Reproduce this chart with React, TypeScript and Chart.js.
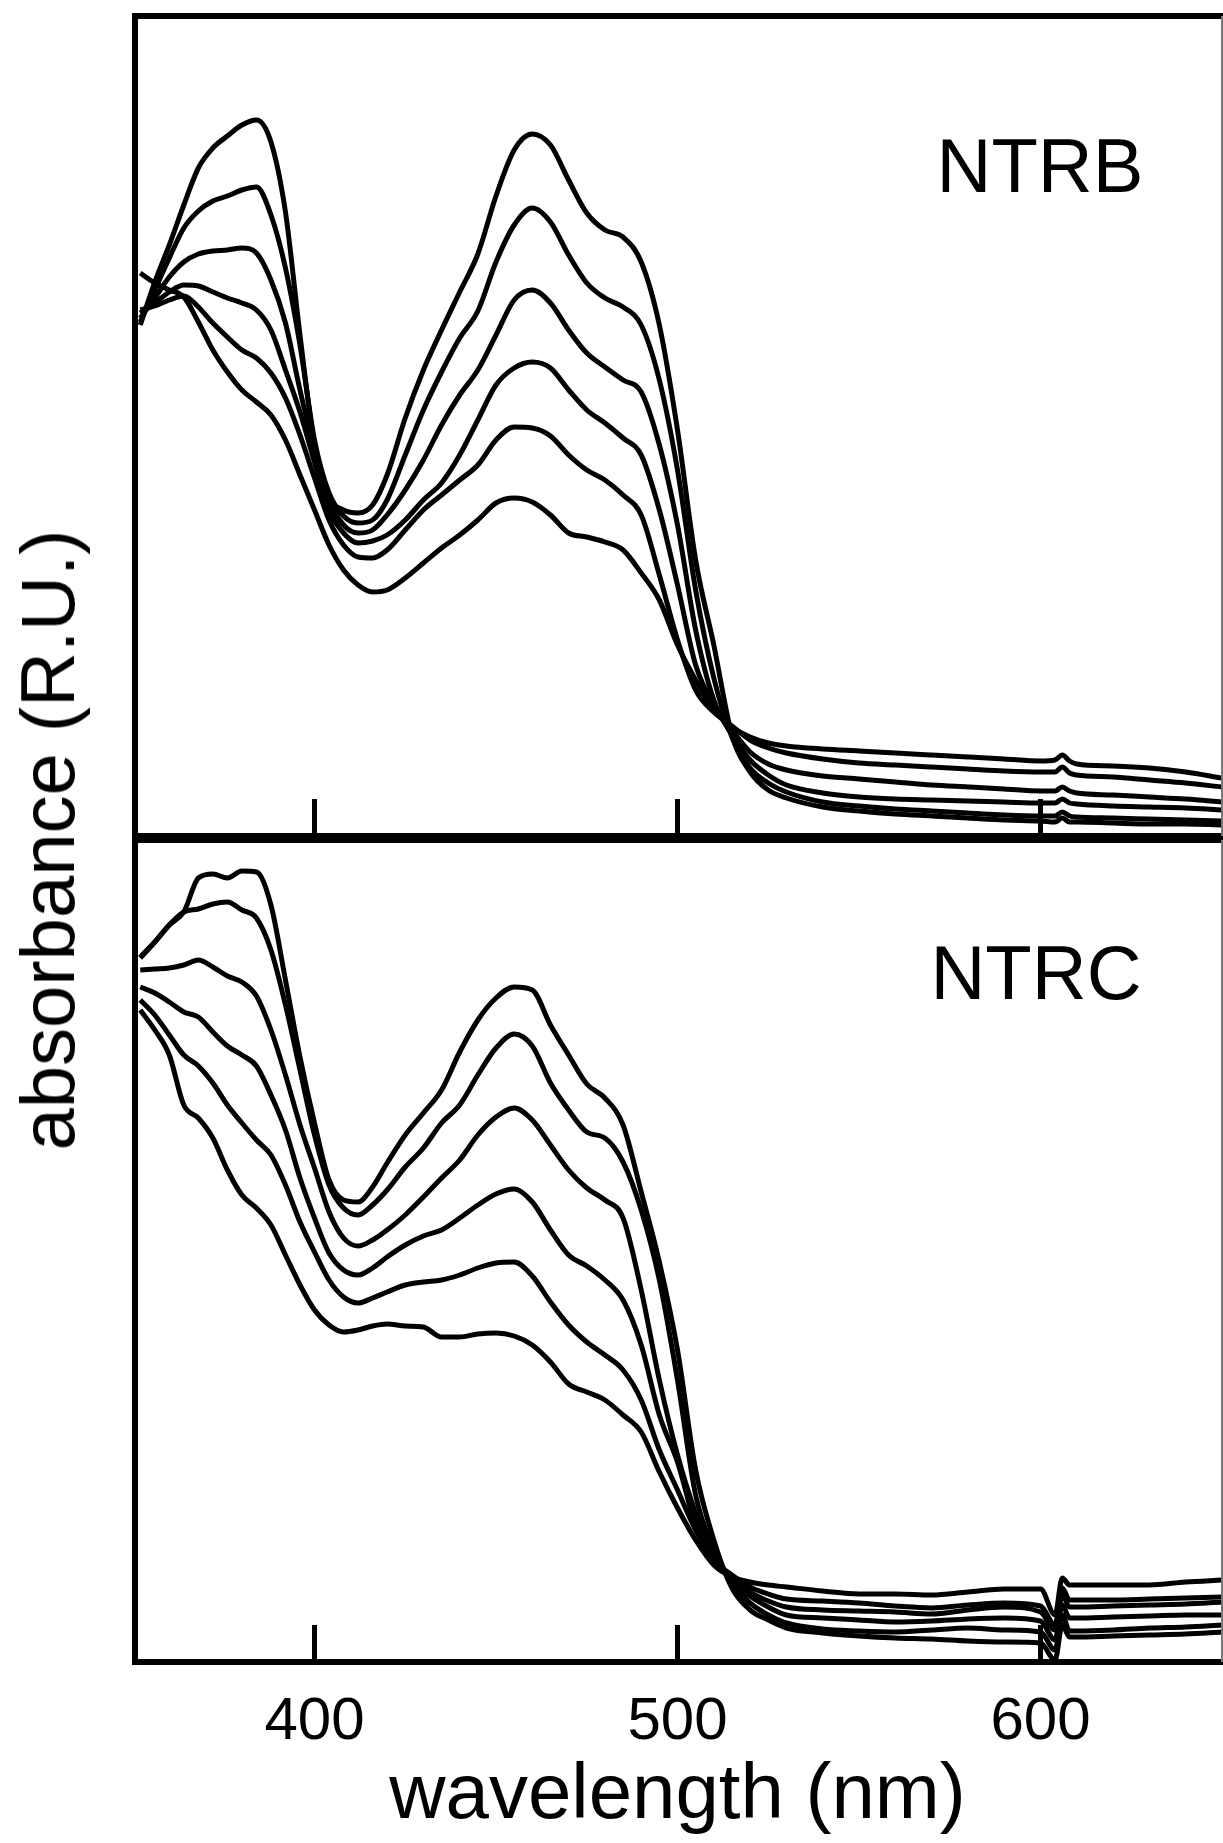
import React, { useEffect, useRef } from 'react';
import { Chart, registerables } from 'chart.js';

Chart.register(...registerables);

const FONT = "'Liberation Sans', Arial, Helvetica, sans-serif";

// wavelength grid (nm)
const WAVELENGTHS = [352, 356, 360, 364, 368, 372, 376, 380, 384, 388, 392, 396, 400, 404, 408, 412, 416, 420, 425, 430, 435, 440, 445, 450, 455, 460, 465, 470, 475, 480, 485, 490, 495, 500, 505, 510, 515, 520, 525, 530, 540, 550, 560, 570, 580, 590, 600, 604, 606, 608, 610, 620, 630, 640, 650];
const X_TICKS = [400, 500, 600];
const X_MIN = 350;
const X_MAX = 650;

// NTRB spectra (absorbance, relative units)
const NTRB_1 = [.511, .554, .591, .631, .668, .688, .700, .711, .716, .694, .624, .501, .391, .339, .326, .323, .331, .361, .418, .466, .506, .544, .582, .640, .686, .702, .691, .656, .623, .606, .599, .574, .511, .406, .276, .191, .101, .064, .046, .038, .029, .025, .022, .020, .018, .016, .015, .014, .018, .014, .014, .013, .012, .012, .011];
const NTRB_2 = [.514, .546, .578, .608, .625, .635, .640, .646, .649, .621, .568, .491, .396, .343, .320, .313, .316, .336, .381, .426, .464, .498, .525, .574, .611, .628, .614, .581, .553, .538, .529, .511, .456, .366, .246, .158, .099, .068, .053, .044, .034, .030, .027, .025, .023, .021, .020, .020, .024, .020, .019, .018, .017, .016, .015];
const NTRB_3 = [.518, .538, .559, .574, .582, .585, .586, .588, .583, .556, .513, .446, .386, .336, .311, .303, .306, .321, .346, .376, .411, .441, .466, .501, .536, .546, .533, .506, .483, .469, .456, .444, .391, .311, .206, .136, .101, .076, .061, .051, .043, .039, .037, .036, .035, .034, .033, .033, .037, .033, .032, .030, .029, .028, .026];
const NTRB_4 = [.523, .533, .544, .551, .550, .544, .538, .533, .526, .506, .466, .424, .374, .326, .303, .293, .295, .301, .316, .336, .353, .381, .416, .451, .468, .474, .468, .446, .426, .413, .398, .381, .326, .251, .171, .131, .106, .084, .072, .066, .060, .057, .054, .051, .049, .047, .045, .045, .049, .045, .043, .041, .039, .037, .034];
const NTRB_5 = [.526, .530, .536, .540, .529, .513, .499, .486, .478, .463, .438, .401, .358, .316, .291, .279, .278, .286, .306, .326, .341, .356, .371, .396, .409, .408, .400, .381, .366, .356, .341, .321, .261, .196, .146, .124, .110, .096, .088, .083, .077, .073, .071, .069, .067, .065, .064, .064, .069, .063, .061, .059, .056, .053, .049];
const NTRB_6 = [.563, .553, .546, .539, .514, .486, .464, .446, .434, .421, .396, .361, .326, .291, .266, .251, .244, .246, .258, .273, .288, .301, .316, .333, .338, .334, .321, .303, .299, .294, .286, .263, .236, .191, .156, .126, .109, .099, .093, .090, .087, .085, .083, .081, .079, .077, .075, .076, .081, .075, .072, .070, .068, .064, .058];

// NTRC spectra (absorbance, relative units)
const NTRC_1 = [.705, .720, .737, .750, .784, .788, .784, .791, .790, .757, .682, .605, .539, .482, .462, .460, .475, .499, .527, .549, .572, .610, .642, .664, .675, .672, .637, .607, .578, .564, .537, .470, .400, .312, .192, .122, .074, .052, .042, .034, .029, .026, .024, .023, .021, .020, .019, .002, .037, .025, .025, .026, .027, .028, .030];
const NTRC_2 = [.704, .720, .737, .750, .753, .758, .760, .752, .744, .712, .657, .592, .527, .477, .454, .447, .457, .472, .495, .514, .539, .557, .587, .614, .628, .616, .579, .552, .530, .524, .500, .452, .382, .282, .167, .112, .079, .059, .047, .039, .033, .031, .030, .032, .034, .032, .030, .012, .047, .031, .031, .032, .034, .035, .037];
const NTRC_3 = [.692, .693, .694, .697, .702, .695, .686, .680, .666, .632, .587, .537, .494, .450, .424, .416, .422, .432, .447, .465, .484, .502, .527, .545, .554, .542, .517, .492, .474, .462, .444, .372, .282, .207, .149, .107, .082, .066, .055, .047, .044, .042, .040, .041, .043, .044, .041, .022, .057, .044, .044, .045, .046, .047, .047];
const NTRC_4 = [.675, .669, .660, .650, .645, .630, .616, .607, .596, .567, .532, .484, .444, .409, .392, .387, .394, .405, .417, .426, .432, .444, .457, .468, .473, .460, .432, .407, .396, .382, .362, .317, .247, .200, .137, .102, .084, .070, .061, .055, .052, .051, .050, .048, .052, .055, .050, .032, .067, .055, .055, .056, .057, .058, .060];
const NTRC_5 = [.662, .647, .627, .607, .596, .579, .557, .539, .522, .507, .477, .440, .410, .382, .365, .359, .364, .370, .377, .380, .382, .387, .394, .399, .400, .386, .360, .337, .320, .307, .292, .262, .212, .172, .132, .102, .087, .075, .068, .063, .061, .059, .056, .054, .057, .059, .056, .037, .074, .062, .062, .062, .063, .064, .065];
const NTRC_6 = [.652, .632, .607, .557, .544, .524, .492, .467, .454, .437, .407, .377, .352, .337, .330, .332, .336, .338, .336, .335, .325, .325, .328, .329, .326, .317, .300, .278, .270, .262, .247, .230, .190, .154, .122, .097, .085, .080, .077, .075, .071, .068, .068, .067, .070, .073, .073, .047, .084, .077, .077, .077, .077, .080, .082];

const NTRB_SERIES = [NTRB_1, NTRB_2, NTRB_3, NTRB_4, NTRB_5, NTRB_6];
const NTRC_SERIES = [NTRC_1, NTRC_2, NTRC_3, NTRC_4, NTRC_5, NTRC_6];

const framePlugin = {
  id: 'frame',
  afterDatasetsDraw(chart: any, _args: any, opts: any) {
    const { ctx, chartArea: a, scales } = chart;
    const w = 6;
    ctx.save();
    ctx.strokeStyle = '#000';
    ctx.lineCap = 'butt';
    ctx.lineWidth = w;
    const lx = a.left + 2;
    // left border
    ctx.beginPath();
    ctx.moveTo(lx, a.top - w / 2);
    ctx.lineTo(lx, a.bottom + w / 2);
    ctx.stroke();
    // top border
    ctx.beginPath();
    ctx.moveTo(lx - w / 2, a.top);
    ctx.lineTo(chart.width, a.top);
    ctx.stroke();
    // bottom border
    ctx.beginPath();
    ctx.moveTo(lx - w / 2, a.bottom);
    ctx.lineTo(chart.width, a.bottom);
    ctx.stroke();
    // inward tick marks
    ctx.lineWidth = 5;
    for (const v of X_TICKS) {
      const px = scales.x.getPixelForValue(v);
      ctx.beginPath();
      ctx.moveTo(px, a.bottom);
      ctx.lineTo(px, a.bottom - 37);
      ctx.stroke();
    }
    // thin right border
    ctx.strokeStyle = '#777';
    ctx.lineWidth = 2;
    ctx.beginPath();
    ctx.moveTo(a.right, a.top);
    ctx.lineTo(a.right, a.bottom);
    ctx.stroke();
    // panel label
    if (opts && opts.text) {
      ctx.fillStyle = '#000';
      ctx.font = `76px ${FONT}`;
      ctx.textAlign = 'center';
      ctx.textBaseline = 'alphabetic';
      ctx.fillText(opts.text, opts.x, opts.y);
    }
    ctx.restore();
  },
};

function makeDatasets(series: number[][]) {
  return series.map((s, k) => ({
    label: `spectrum ${k + 1}`,
    data: WAVELENGTHS.map((x, i) => ({ x, y: s[i] })),
    borderColor: '#000',
    borderWidth: 5,
    pointRadius: 0,
    fill: false,
    cubicInterpolationMode: 'monotone' as const,
  }));
}

function buildConfig(series: number[][], yMax: number, padding: any, showAxis: boolean, label: any): any {
  const xScale: any = {
    type: 'linear',
    min: X_MIN,
    max: X_MAX,
    display: showAxis,
    position: 'bottom',
    afterBuildTicks: (s: any) => {
      s.ticks = X_TICKS.map((v) => ({ value: v }));
    },
    grid: { display: false, drawTicks: false },
    border: { display: false },
    ticks: {
      color: '#000',
      font: { family: FONT, size: 60 },
      padding: 24,
      maxRotation: 0,
      autoSkip: false,
    },
    title: {
      display: true,
      text: 'wavelength (nm)',
      color: '#000',
      font: { family: FONT, size: 78 },
      padding: { top: 0, bottom: 0 },
    },
  };
  if (showAxis) {
    xScale.afterFit = (s: any) => {
      s.height = 181;
    };
  }
  return {
    type: 'line',
    data: { datasets: makeDatasets(series) },
    plugins: [framePlugin],
    options: {
      responsive: false,
      animation: false,
      devicePixelRatio: 1,
      layout: { padding },
      plugins: {
        legend: { display: false },
        tooltip: { enabled: false },
        frame: label,
      },
      scales: {
        x: xScale,
        y: {
          type: 'linear',
          min: 0,
          max: yMax,
          display: false,
        },
      },
    },
  };
}

export default function App() {
  const topRef = useRef<HTMLCanvasElement>(null);
  const botRef = useRef<HTMLCanvasElement>(null);

  useEffect(() => {
    const c1 = new Chart(
      topRef.current as HTMLCanvasElement,
      buildConfig(NTRB_SERIES, 0.82, { left: 133, right: 1, top: 16, bottom: 2 }, false, { text: 'NTRB', x: 1040, y: 192 })
    );
    const c2 = new Chart(
      botRef.current as HTMLCanvasElement,
      buildConfig(NTRC_SERIES, 0.822, { left: 133, right: 1, top: 2, bottom: 0 }, true, { text: 'NTRC', x: 1036, y: 161 })
    );
    return () => {
      c1.destroy();
      c2.destroy();
    };
  }, []);

  return (
    <div style={{ position: 'absolute', left: 0, top: 0, width: 1223, height: 1843, background: '#fff', overflow: 'hidden' }}>
      <canvas ref={topRef} width={1223} height={838} style={{ position: 'absolute', left: 0, top: 0, width: 1223, height: 838 }} />
      <canvas ref={botRef} width={1223} height={1005} style={{ position: 'absolute', left: 0, top: 838, width: 1223, height: 1005 }} />
      <div
        style={{
          position: 'absolute',
          left: 48,
          top: 840,
          transform: 'translate(-50%, -50%) rotate(-90deg)',
          fontFamily: FONT,
          fontSize: 76,
          lineHeight: '76px',
          whiteSpace: 'nowrap',
          color: '#000',
        }}
      >
        absorbance (R.U.)
      </div>
    </div>
  );
}
